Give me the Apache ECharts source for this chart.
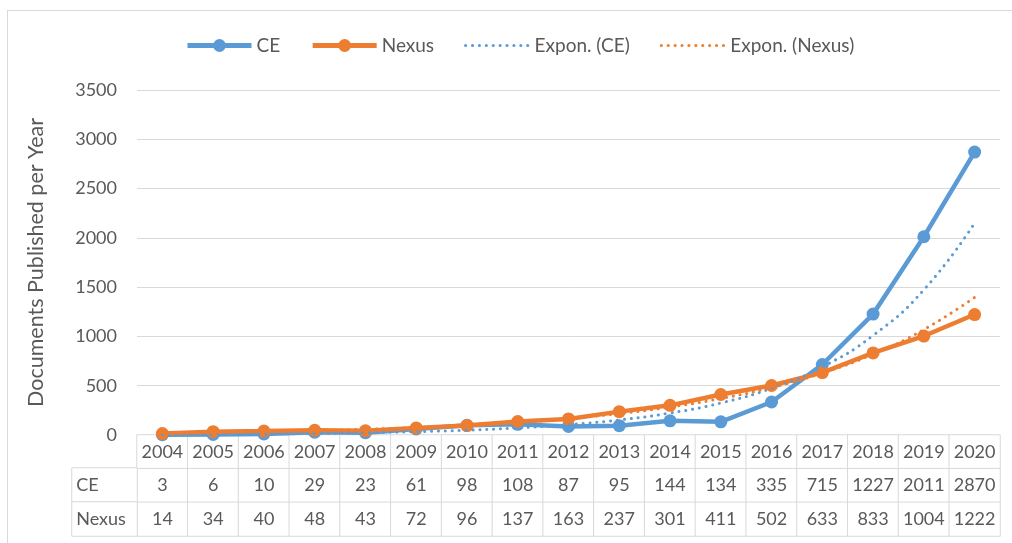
<!DOCTYPE html>
<html>
<head>
<meta charset="utf-8">
<script src="https://cdn.jsdelivr.net/npm/echarts@6/dist/echarts.min.js"></script>
<style>
  html, body { margin: 0; padding: 0; background: #fff; }
  #frame { position: absolute; left: 7px; top: 10px; width: 1100px; height: 600px; border: 1px solid #d9d9d9; }
  #chart { position: absolute; left: 0; top: 0; width: 1012px; height: 543px; }
</style>
</head>
<body>
<div id="frame"></div>
<div id="chart"></div>
<script>
const years = ['2004','2005','2006','2007','2008','2009','2010','2011','2012','2013','2014','2015','2016','2017','2018','2019','2020'];
const ceValues = [3, 6, 10, 29, 23, 61, 98, 108, 87, 95, 144, 134, 335, 715, 1227, 2011, 2870];
const nexusValues = [14, 34, 40, 48, 43, 72, 96, 137, 163, 237, 301, 411, 502, 633, 833, 1004, 1222];
const ceTrend = [5, 7, 11, 16, 23, 34, 49, 72, 105, 153, 223, 325, 474, 692, 1010, 1473, 2150];
const nexusTrend = [20, 26, 34, 44, 58, 75, 98, 128, 167, 217, 283, 370, 482, 629, 820, 1070, 1396];
const tableRows = ['Year', 'CE', 'Nexus'];
const rowLabels = ['CE', 'Nexus'];

const FONT = 'Lato, "Open Sans", sans-serif';
const TXT = '#595959';
const GRIDC = '#d9d9d9';
const BLUE = '#5B9BD5';
const ORANGE = '#ED7D31';
const DOTS = [0.1, 6.8];

const tableData = [];
years.forEach((y, i) => {
  tableData.push([i, 0, Number(y)]);
  tableData.push([i, 1, ceValues[i]]);
  tableData.push([i, 2, nexusValues[i]]);
});
const labelData = rowLabels.map((r, i) => [0, i, i]);

const chart = echarts.init(document.getElementById('chart'), null, { renderer: 'canvas' });
chart.setOption({
  animation: false,
  backgroundColor: 'transparent',
  textStyle: { fontFamily: FONT },
  legend: {
    left: 180, top: 31,
    itemWidth: 64, itemHeight: 16, itemGap: 30,
    textStyle: { color: TXT, fontSize: 19, fontFamily: FONT },
    data: [
      { name: 'CE', lineStyle: { width: 5 } },
      { name: 'Nexus', lineStyle: { width: 5 } },
      { name: 'Expon. (CE)', lineStyle: { width: 3 }, itemStyle: { opacity: 0 } },
      { name: 'Expon. (Nexus)', lineStyle: { width: 3 }, itemStyle: { opacity: 0 } }
    ]
  },
  grid: [
    { left: 137, right: 12, top: 90, height: 345, containLabel: false },
    { left: 137, right: 12, top: 435, height: 101 },
    { left: 72, width: 65, top: 468, height: 68 }
  ],
  xAxis: [
    { gridIndex: 0, type: 'category', data: years, boundaryGap: true,
      axisLine: { show: false }, axisTick: { show: false }, axisLabel: { show: false } },
    { gridIndex: 1, type: 'category', data: years, boundaryGap: true,
      axisLine: { show: false }, axisTick: { show: false }, axisLabel: { show: false } },
    { gridIndex: 2, type: 'category', data: [''], boundaryGap: true,
      axisLine: { show: false }, axisTick: { show: false }, axisLabel: { show: false } }
  ],
  yAxis: [
    { gridIndex: 0, type: 'value', min: 0, max: 3500, interval: 500,
      name: 'Documents Published per Year', nameLocation: 'middle', nameGap: 90,
      nameTextStyle: { color: TXT, fontSize: 21.5, fontFamily: FONT },
      axisLine: { show: false }, axisTick: { show: false },
      axisLabel: { color: TXT, fontSize: 18, margin: 20, fontFamily: FONT, formatter: v => String(v) },
      splitLine: { lineStyle: { color: GRIDC, width: 1 } } },
    { gridIndex: 1, type: 'category', data: tableRows, inverse: true,
      axisLine: { show: false }, axisTick: { show: false }, axisLabel: { show: false }, splitLine: { show: false } },
    { gridIndex: 2, type: 'category', data: rowLabels, inverse: true,
      axisLine: { show: false }, axisTick: { show: false }, axisLabel: { show: false }, splitLine: { show: false } }
  ],
  series: [
    { name: 'CE', type: 'line', xAxisIndex: 0, yAxisIndex: 0, data: ceValues,
      color: BLUE, lineStyle: { width: 4.5, color: BLUE }, itemStyle: { color: BLUE },
      symbol: 'circle', symbolSize: 13, z: 3 },
    { name: 'Nexus', type: 'line', xAxisIndex: 0, yAxisIndex: 0, data: nexusValues,
      color: ORANGE, lineStyle: { width: 4.5, color: ORANGE }, itemStyle: { color: ORANGE },
      symbol: 'circle', symbolSize: 13, z: 4 },
    { name: 'Expon. (CE)', type: 'line', xAxisIndex: 0, yAxisIndex: 0, data: ceTrend,
      color: BLUE, smooth: true, symbol: 'none',
      lineStyle: { width: 3, color: BLUE, type: DOTS, cap: 'round' }, z: 5 },
    { name: 'Expon. (Nexus)', type: 'line', xAxisIndex: 0, yAxisIndex: 0, data: nexusTrend,
      color: ORANGE, smooth: true, symbol: 'none',
      lineStyle: { width: 3, color: ORANGE, type: DOTS, cap: 'round' }, z: 5 },
    { name: 'table', type: 'heatmap', xAxisIndex: 1, yAxisIndex: 1, data: tableData,
      itemStyle: { color: '#ffffff', borderColor: GRIDC, borderWidth: 1 },
      label: { show: true, color: TXT, fontSize: 18, fontFamily: FONT, formatter: p => String(p.value[2]) },
      emphasis: { disabled: true }, z: 1 },
    { name: 'rowlabels', type: 'heatmap', xAxisIndex: 2, yAxisIndex: 2, data: labelData,
      itemStyle: { color: '#ffffff', borderColor: GRIDC, borderWidth: 1 },
      label: { show: true, color: TXT, fontSize: 18, fontFamily: FONT, position: 'insideLeft', distance: 5,
               formatter: p => rowLabels[p.value[2]] },
      emphasis: { disabled: true }, z: 1 }
  ]
});
</script>
</body>
</html>
